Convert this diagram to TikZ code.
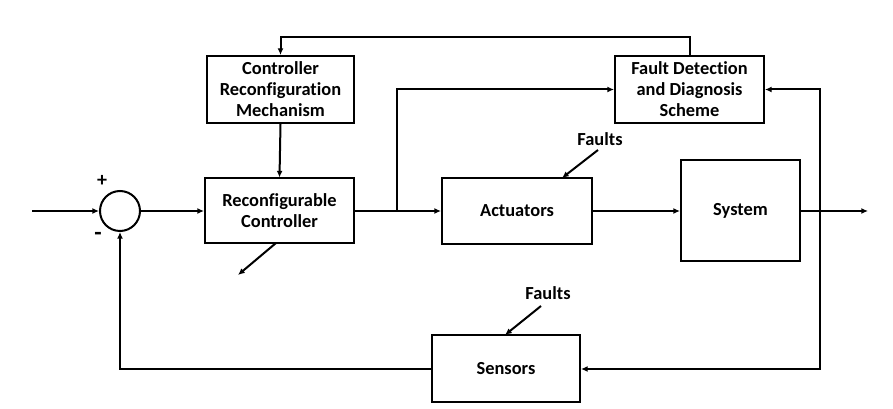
\documentclass[tikz,border=0pt]{standalone}
\usepackage{fontspec}
\setmainfont{Carlito}[Ligatures=NoCommon]
\usetikzlibrary{arrows.meta}
\begin{document}
\begin{tikzpicture}[x=0.75pt,y=-0.75pt,
  line width=1.5pt,
  arr/.style={-{Latex[length=5pt,width=4.5pt]}},
  blk/.style={draw,rectangle,align=center,font=\fontsize{13.8}{15.8}\selectfont\bfseries,inner sep=0pt},
  lbl/.style={font=\fontsize{13.8}{15.8}\selectfont\bfseries,inner sep=1pt}]
\useasboundingbox (0,0) rectangle (893,409);
\node[draw,circle,minimum size=30pt,inner sep=0pt] (sum) at (120,211) {};
\node[blk,minimum width=111.75pt,minimum height=48.75pt] (ctrl) at (279.5,211) {Reconfigurable\\Controller};
\node[blk,minimum width=110.25pt,minimum height=50.25pt] (crm) at (280.5,89.5) {Controller\\Reconfiguration\\Mechanism};
\node[blk,minimum width=111.75pt,minimum height=50.25pt] (fdd) at (689.5,89.5) {Fault Detection\\and Diagnosis\\Scheme};
\node[blk,minimum width=112.5pt,minimum height=49.5pt] (act) at (517,211) {Actuators};
\node[blk,minimum width=89.25pt,minimum height=75.75pt] (sys) at (740.5,211) {System};
\node[blk,minimum width=111pt,minimum height=50.25pt] (sen) at (506,369) {Sensors};
\node[lbl,font=\fontsize{15}{16}\selectfont\bfseries] (plus) at (102,181) {+};
\node[lbl,font=\fontsize{18}{18}\selectfont\bfseries] (minus) at (98,236) {-};
\node[lbl] (f1) at (600,139) {Faults};
\node[lbl] (f2) at (548,293) {Faults};
\coordinate (in) at (32,211);
\coordinate (out) at (868,211);
\coordinate (br1) at (397,211);
\coordinate (br2) at (820,211);
\coordinate (top) at (689.5,37);
\coordinate (cdiag) at (238,275);
\coordinate (cstart) at (276,243);
\coordinate (f1s) at (598,150);
\coordinate (f1e) at (562,178);
\coordinate (f2s) at (541,306);
\coordinate (f2e) at (505,335);
\draw[arr] (in) -- (sum.west);
\draw[arr] (sum.east) -- (ctrl.west);
\draw[arr] (ctrl.east) -- (act.west);
\draw[arr] (br1) |- (fdd.west);
\draw[arr] (act.east) -- (sys.west);
\draw[arr] (sys.east) -- (out);
\draw[arr] (br2) |- (fdd.east);
\draw[arr] (br2) |- (sen.east);
\draw[arr] (sen.west) -| (sum.south);
\draw[arr] (fdd.north) -- (top) -| (crm.north);
\draw[arr] (crm.south) -- (ctrl.north);
\draw[arr] (cstart) -- (cdiag);
\draw[arr] (f1s) -- (f1e);
\draw[arr] (f2s) -- (f2e);
\end{tikzpicture}
\end{document}
